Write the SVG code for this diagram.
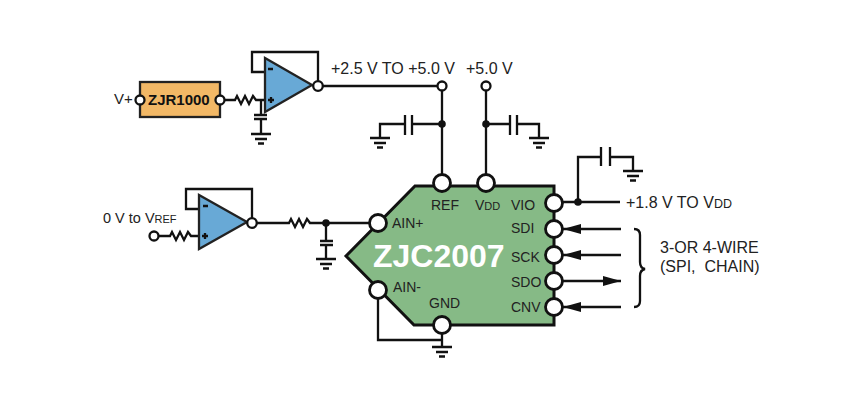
<svg xmlns="http://www.w3.org/2000/svg" width="847" height="413" viewBox="0 0 847 413">
<defs>
<style>
text{font-family:"Liberation Sans",Arial,sans-serif;font-size:14px;fill:#222}
.w{fill:none;stroke:#111;stroke-width:2.300}
.p{fill:#fff;stroke:#111;stroke-width:2.300}
.b{fill:#fff;stroke:#111;stroke-width:2.800}
.d{fill:#111}
.t{fill:#68a9d6;stroke:#222;stroke-width:2.300}
.s{font-size:11px}
.l{font-size:16px}
.ls{font-size:12.500px}
</style>
<g id="gnd"><path class="w" d="M-10 0H10M-6 5H6M-3 9.500H3"/></g>
<path id="res" class="w" d="M0 0H3L5 -4L9 4L13 -4L17 4L21 -4L24 0H25" stroke-linejoin="miter"/>
<marker id="ah" markerWidth="18" markerHeight="10" refX="18" refY="5" orient="auto" markerUnits="userSpaceOnUse"><path d="M0 0L18 5L0 10Z" fill="#111"/></marker>
</defs>
<rect width="847" height="413" fill="#fff"/>
<g id="connectors">
<path class="w" d="M264 72H252V52H318V81M224.500 100H232M257 100H265M261 100V115M261 119V134"/>
<path class="w" d="M254 115H267M254 119H267"/>
<use href="#res" x="232" y="100"/>
<use href="#gnd" x="261" y="134"/>
<path class="w" d="M323 86H437M442 91V175M486 91V175M442 124H412M405 124H380V138M486 124H510M517 124H539V138"/>
<path class="w" d="M405 115V135M412 115V135M510 115V135M517 115V135"/>
<circle class="d" cx="442" cy="124" r="3.800"/><circle class="d" cx="486" cy="124" r="3.800"/>
<use href="#gnd" x="380" y="138"/><use href="#gnd" x="539" y="138"/>
<path class="w" d="M199 209H186V189H252V218M159 236H167M192 236H199M257 223H286M311 223H369M326 223V241M326 245V259M320 241H333M320 245H333"/>
<use href="#res" x="167" y="236"/><use href="#res" x="286" y="223"/>
<circle class="d" cx="326" cy="223" r="3.800"/>
<use href="#gnd" x="326" y="259"/>
<path class="w" d="M378 299V340H442M442 334V347"/>
<use href="#gnd" x="442" y="347"/>
<path class="w" d="M563 202H620M578 202V157H601M610 157H633V170M601 147V166M610 147V166"/>
<circle class="d" cx="578" cy="202" r="3.800"/>
<use href="#gnd" x="633" y="171"/>
<path class="w" d="M621 229H563" marker-end="url(#ah)"/>
<path class="w" d="M621 255H563" marker-end="url(#ah)"/>
<path class="w" d="M563 281H621" marker-end="url(#ah)"/>
<path class="w" d="M621 307H563" marker-end="url(#ah)"/>
<path class="w" d="M634 229Q640 229 640 235V262Q640 268 645 269Q640 270 640 276V301Q640 307 634 307"/>
</g>
<g id="chip">
<path d="M346 256L415 186H554V325H414Z" fill="#86ba86" stroke="#111" stroke-width="3"/>
<text x="373" y="267" style="font-size:32px;font-weight:bold;fill:#fff">ZJC2007</text>
</g>
<g id="pin-ref"><circle class="b" cx="442" cy="183" r="8.500"/><text x="431" y="210">REF</text></g>
<g id="pin-vdd"><circle class="b" cx="486" cy="183" r="8.500"/><text x="475" y="210">V<tspan class="s">DD</tspan></text></g>
<g id="pin-vio"><circle class="b" cx="554" cy="203" r="8.500"/><text x="511" y="210">VIO</text></g>
<g id="pin-sdi"><circle class="b" cx="554" cy="229" r="8.500"/><text x="511" y="233">SDI</text></g>
<g id="pin-sck"><circle class="b" cx="554" cy="255" r="8.500"/><text x="511" y="262">SCK</text></g>
<g id="pin-sdo"><circle class="b" cx="554" cy="281" r="8.500"/><text x="511" y="287">SDO</text></g>
<g id="pin-cnv"><circle class="b" cx="554" cy="307" r="8.500"/><text x="511" y="312">CNV</text></g>
<g id="pin-ainp"><circle class="b" cx="378" cy="223" r="8.500"/><text x="392" y="228">AIN+</text></g>
<g id="pin-ainm"><circle class="b" cx="378" cy="290" r="8.500"/><text x="393" y="292">AIN-</text></g>
<g id="pin-gnd"><circle class="b" cx="442" cy="325" r="8.500"/><text x="429" y="308">GND</text></g>
<g id="ref-box">
<rect x="140" y="82" width="80" height="35" fill="#f2b866" stroke="#222" stroke-width="2.300"/>
<circle class="p" cx="140" cy="100" r="4.500"/><circle class="p" cx="220" cy="100" r="4.500"/>
<text x="148" y="105" style="font-size:15px;font-weight:bold;fill:#111">ZJR1000</text>
<text x="114" y="104" style="font-size:15px">V+</text>
</g>
<g id="opamp-top">
<path class="t" d="M265 58V112L312 85Z"/>
<path class="w" d="M268 69H273M268 100H274M271 97V103"/>
<circle class="p" cx="318" cy="86" r="4.800"/>
</g>
<g id="opamp-bottom">
<path class="t" d="M199 195V249L247 222Z"/>
<path class="w" d="M203 206H208M202 236H208M205 233V239"/>
<circle class="p" cx="252" cy="223" r="4.800"/>
<circle class="p" cx="154" cy="236" r="4.500"/>
</g>
<g id="rails">
<circle class="p" cx="442" cy="86" r="4.500"/>
<circle class="p" cx="486" cy="86" r="4.500"/>
</g>
<g id="labels">
<text class="l" x="331" y="74">+2.5 V TO +5.0 V</text>
<text class="l" x="466" y="74">+5.0 V</text>
<text x="103" y="223" style="font-size:14.500px">0 V to V<tspan class="s">REF</tspan></text>
<text class="l" x="626" y="208">+1.8 V TO V<tspan class="ls">DD</tspan></text>
<text class="l" x="660" y="253">3-OR 4-WIRE</text>
<text class="l" x="660" y="272" xml:space="preserve">(SPI,  CHAIN)</text>
</g>
</svg>
